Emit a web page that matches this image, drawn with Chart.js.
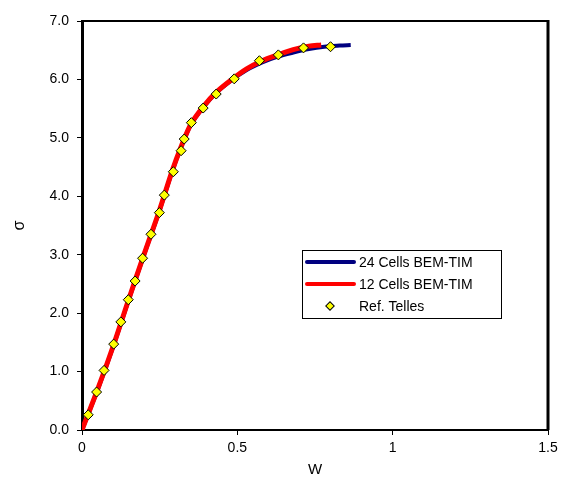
<!DOCTYPE html>
<html>
<head>
<meta charset="utf-8">
<script src="https://cdn.jsdelivr.net/npm/chart.js@4.4.1/dist/chart.umd.min.js"></script>
<style>
  html, body { margin: 0; padding: 0; background: #fff; }
</style>
</head>
<body>
<canvas id="chart" width="563" height="479"></canvas>
<script>
// ---------------- data -----------------
var seriesLabels = ["24 Cells BEM-TIM", "12 Cells BEM-TIM", "Ref. Telles"];

var w24 = [0, 0.05, 0.1, 0.15, 0.2, 0.25, 0.29, 0.32, 0.35, 0.39, 0.43, 0.48, 0.53, 0.58, 0.63, 0.68, 0.73, 0.78, 0.83, 0.865];
var s24 = [0, 0.68, 1.42, 2.22, 3.0, 3.76, 4.42, 4.85, 5.22, 5.52, 5.76, 5.98, 6.16, 6.29, 6.39, 6.46, 6.52, 6.56, 6.58, 6.59];

var w12 = [0, 0.05, 0.1, 0.15, 0.2, 0.25, 0.29, 0.32, 0.35, 0.39, 0.43, 0.48, 0.53, 0.58, 0.63, 0.68, 0.73, 0.77];
var s12 = [0, 0.69, 1.43, 2.23, 3.01, 3.77, 4.43, 4.86, 5.23, 5.53, 5.77, 5.99, 6.18, 6.32, 6.42, 6.51, 6.57, 6.59];

var wRef = [0.02, 0.047, 0.071, 0.102, 0.125, 0.149, 0.171, 0.195, 0.222, 0.249, 0.265, 0.294, 0.319, 0.329, 0.352, 0.39, 0.432, 0.49, 0.571, 0.632, 0.713, 0.8];
var sRef = [0.26, 0.65, 1.02, 1.47, 1.85, 2.23, 2.55, 2.94, 3.35, 3.72, 4.02, 4.42, 4.78, 4.98, 5.26, 5.51, 5.75, 6.01, 6.32, 6.42, 6.54, 6.56];

var xTicks = [0, 0.5, 1, 1.5];
var yTicks = [0, 1, 2, 3, 4, 5, 6, 7];

function toPoints(xs, ys) {
  return xs.map(function (x, i) { return { x: x, y: ys[i] }; });
}

var fontFam = "'Liberation Sans', Arial, sans-serif";

// ---------------- plugins -----------------
// frame round the plot area and a boxed legend inside it
var framePlugin = {
  id: "frame",
  afterDraw: function (chart) {
    var ctx = chart.ctx;
    var a = chart.chartArea;
    ctx.save();
    ctx.strokeStyle = "#000";
    ctx.lineWidth = 2;
    ctx.beginPath();
    ctx.moveTo(a.left, a.top);
    ctx.lineTo(a.right, a.top);
    ctx.stroke();
    ctx.lineWidth = 3;
    ctx.beginPath();
    ctx.moveTo(a.right, a.top - 1);
    ctx.lineTo(a.right, a.bottom);
    ctx.stroke();

    // legend
    var bx = 302, by = 250, bw = 199, bh = 68;
    ctx.fillStyle = "#fff";
    ctx.fillRect(bx, by, bw, bh);
    ctx.lineWidth = 1;
    ctx.strokeRect(bx + 0.5, by + 0.5, bw, bh);
    ctx.font = "14px " + fontFam;
    ctx.textBaseline = "middle";
    var ds = chart.data.datasets;
    for (var i = 0; i < ds.length; i++) {
      var yy = by + 12 + i * 22;
      if (ds[i].showLine === false) {
        ctx.save();
        ctx.translate(330, yy);
        ctx.rotate(Math.PI / 4);
        ctx.fillStyle = ds[i].pointBackgroundColor;
        ctx.fillRect(-3, -3, 6, 6);
        ctx.strokeStyle = "#000";
        ctx.lineWidth = 1;
        ctx.strokeRect(-3, -3, 6, 6);
        ctx.restore();
      } else {
        ctx.strokeStyle = ds[i].borderColor;
        ctx.lineWidth = 4;
        ctx.lineCap = "round";
        ctx.beginPath();
        ctx.moveTo(307, yy);
        ctx.lineTo(354, yy);
        ctx.stroke();
      }
      ctx.fillStyle = "#000";
      ctx.fillText(ds[i].label, 359, yy + 1);
    }
    ctx.restore();
  }
};

// ---------------- chart -----------------
var ctx = document.getElementById("chart");

var chart = new Chart(ctx, {
  type: "scatter",
  data: {
    datasets: [
      {
        label: seriesLabels[0],
        data: toPoints(w24, s24),
        showLine: true,
        borderColor: "#000080",
        borderWidth: 4,
        pointRadius: 0,
        tension: 0.3,
        order: 2
      },
      {
        label: seriesLabels[1],
        data: toPoints(w12, s12),
        showLine: true,
        borderColor: "#ff0000",
        borderWidth: 5,
        pointRadius: 0,
        tension: 0.3,
        order: 1
      },
      {
        label: seriesLabels[2],
        data: toPoints(wRef, sRef),
        showLine: false,
        pointStyle: "rectRot",
        pointRadius: 5,
        pointBackgroundColor: "#ffff00",
        pointBorderColor: "#000",
        pointBorderWidth: 1,
        order: 0
      }
    ]
  },
  options: {
    responsive: false,
    animation: false,
    layout: { padding: { top: 21, right: 15, left: 0, bottom: 0 } },
    plugins: {
      legend: { display: false },
      tooltip: { enabled: false }
    },
    scales: {
      x: {
        type: "linear",
        min: 0,
        max: 1.5,
        afterBuildTicks: function (s) { s.ticks = xTicks.map(function (v) { return { value: v }; }); },
        afterFit: function (s) { s.height = 49; },
        grid: { display: true, drawOnChartArea: false, drawTicks: true, tickLength: 5, color: "#000", lineWidth: 1 },
        border: { display: true, color: "#000", width: 2 },
        ticks: {
          color: "#000",
          padding: 5,
          maxRotation: 0,
          font: { family: fontFam, size: 14 },
          callback: function (v) { return String(v); }
        },
        title: {
          display: true,
          text: "W",
          color: "#000",
          padding: { top: 4, bottom: 0 },
          font: { family: fontFam, size: 15 }
        }
      },
      y: {
        type: "linear",
        min: 0,
        max: 7,
        afterBuildTicks: function (s) { s.ticks = yTicks.map(function (v) { return { value: v }; }); },
        afterFit: function (s) { s.width = 82; },
        grid: { display: true, drawOnChartArea: false, drawTicks: true, tickLength: 5, color: "#000", lineWidth: 1 },
        border: { display: true, color: "#000", width: 3 },
        ticks: {
          color: "#000",
          padding: 8,
          font: { family: fontFam, size: 14 },
          callback: function (v) { return v.toFixed(1); }
        },
        title: {
          display: true,
          text: "σ",
          color: "#000",
          padding: { top: 10, bottom: 0 },
          font: { family: fontFam, size: 16 }
        }
      }
    }
  },
  plugins: [framePlugin]
});
</script>
</body>
</html>
